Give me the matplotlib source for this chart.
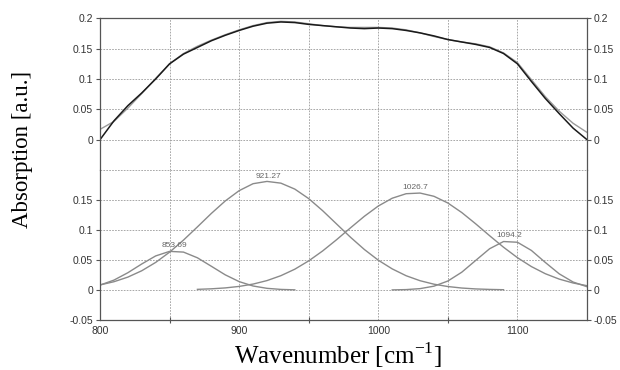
import numpy as np
import matplotlib.pyplot as plt

plt.rcParams['font.family'] = ['Liberation Sans', 'DejaVu Sans']
plt.rcParams['mathtext.fontset'] = 'custom'
plt.rcParams['mathtext.rm'] = 'Liberation Serif'

# measured spectrum and fitted envelope (top panel), every 10 cm-1
wn_full = np.arange(800, 1151, 10)
measured = [0.000, 0.031, 0.056, 0.077, 0.100, 0.125, 0.141, 0.152, 0.163, 0.172,
            0.180, 0.187, 0.192, 0.194, 0.193, 0.190, 0.188, 0.186, 0.184, 0.183,
            0.184, 0.183, 0.180, 0.176, 0.171, 0.165, 0.161, 0.157, 0.152, 0.142,
            0.125, 0.096, 0.068, 0.043, 0.019, 0.000]
fitted = [0.017, 0.030, 0.052, 0.076, 0.101, 0.125, 0.142, 0.154, 0.164, 0.173,
          0.181, 0.188, 0.193, 0.195, 0.194, 0.191, 0.188, 0.186, 0.185, 0.185,
          0.185, 0.184, 0.181, 0.176, 0.170, 0.165, 0.161, 0.158, 0.153, 0.143,
          0.127, 0.099, 0.071, 0.047, 0.027, 0.012]

# fitted component bands (bottom panel)
wn_a = np.arange(800, 941, 10)
band_a = [0.0082, 0.0165, 0.0288, 0.0434, 0.0568, 0.0644, 0.0632, 0.0537, 0.0396,
          0.0253, 0.0140, 0.0067, 0.0028, 0.0010, 0.0003]
wn_b = np.arange(800, 1091, 10)
band_b = [0.0085, 0.0138, 0.0215, 0.0321, 0.0460, 0.0631, 0.0832, 0.1052, 0.1276,
          0.1484, 0.1656, 0.1772, 0.1810, 0.1781, 0.1682, 0.1523, 0.1322, 0.1101,
          0.0880, 0.0675, 0.0497, 0.0352, 0.0238, 0.0155, 0.0097, 0.0058, 0.0033,
          0.0018, 0.0010, 0.0005]
wn_c = np.arange(870, 1151, 10)
band_c = [0.0011, 0.0020, 0.0035, 0.0060, 0.0099, 0.0157, 0.0239, 0.0347, 0.0486,
          0.0651, 0.0838, 0.1036, 0.1229, 0.1400, 0.1530, 0.1605, 0.1616, 0.1562,
          0.1450, 0.1291, 0.1103, 0.0905, 0.0713, 0.0539, 0.0391, 0.0272, 0.0182,
          0.0117, 0.0072]
wn_d = np.arange(1010, 1151, 10)
band_d = [0.0002, 0.0007, 0.0023, 0.0064, 0.0150, 0.0297, 0.0493, 0.0688, 0.0808,
          0.0796, 0.0660, 0.0460, 0.0270, 0.0133, 0.0055]

peak_pos = [853.69, 921.27, 1026.7, 1094.2]
peak_height = [0.065, 0.181, 0.162, 0.082]
peak_labels = ['853.69', '921.27', '1026.7', '1094.2']

top_ticks = [0, 0.05, 0.1, 0.15, 0.2]
top_labels = ['0', '0.05', '0.1', '0.15', '0.2']
bot_ticks = [-0.05, 0, 0.05, 0.1, 0.15]
bot_labels = ['-0.05', '0', '0.05', '0.1', '0.15']
x_ticks = [800, 900, 1000, 1100]
x_labels = ['800', '900', '1000', '1100']
x_minor = [850, 950, 1050]

grid_kw = dict(color='#9a9a9a', linestyle=(0, (2, 1.5)), linewidth=0.6)
spine_col = '#555555'
tick_col = '#333333'


def style_axes(ax, yticks, ylabels):
    ax.set_xlim(800, 1150)
    ax.set_ylim(-0.05, 0.2)
    ax.set_xticks(x_ticks)
    ax.set_xticks(x_minor, minor=True)
    ax.set_yticks(yticks)
    ax.set_yticklabels(ylabels)
    ax.grid(True, which='both', axis='x', **grid_kw)
    ax.grid(True, axis='y', **grid_kw)
    ax.tick_params(axis='y', left=True, right=True, labelleft=True, labelright=True,
                   length=3, width=0.8, color=spine_col, labelsize=7.5,
                   labelcolor=tick_col, pad=2)
    ax.tick_params(axis='x', which='major', length=0, labelsize=7.5,
                   labelcolor=tick_col, pad=4)
    ax.tick_params(axis='x', which='minor', length=4, width=0.8, direction='inout',
                   color=spine_col)
    for s in ax.spines.values():
        s.set_color(spine_col)
        s.set_linewidth(0.9)


fig = plt.figure(figsize=(6.2, 3.7), dpi=100)
ax_top = fig.add_axes([0.1613, 0.5405, 0.7855, 0.4100])
ax_bot = fig.add_axes([0.1613, 0.1351, 0.7855, 0.4054])

# top panel
style_axes(ax_top, top_ticks, top_labels)
ax_top.set_xticklabels([])
ax_top.tick_params(axis='x', which='minor', length=0)
ax_top.spines['bottom'].set_visible(False)
ax_top.plot(wn_full, fitted, color='#9a9a9a', linewidth=1.0)
ax_top.plot(wn_full, measured, color='#1a1a1a', linewidth=1.1)

# bottom panel
style_axes(ax_bot, bot_ticks, bot_labels)
ax_bot.set_xticklabels(x_labels)
ax_bot.spines['top'].set_visible(False)
ax_bot.axhline(0.2, clip_on=False, **grid_kw)
for wn, band in [(wn_a, band_a), (wn_b, band_b), (wn_c, band_c), (wn_d, band_d)]:
    ax_bot.plot(wn, band, color='#8a8a8a', linewidth=1.0)
for pos, h, lab in zip(peak_pos, peak_height, peak_labels):
    ax_bot.text(pos, h + 0.003, lab, ha='center', va='bottom', fontsize=6,
                color='#666666')

fig.text(0.037, 0.595, 'Absorption [a.u.]', rotation=90, ha='center', va='center',
         fontsize=16.5, family='Liberation Serif')
fig.text(0.545, 0.04, 'Wavenumber [cm$^{\\mathrm{-1}}$]', ha='center', va='center',
         fontsize=18, family='Liberation Serif')

fig.savefig('out.png', dpi=100)
